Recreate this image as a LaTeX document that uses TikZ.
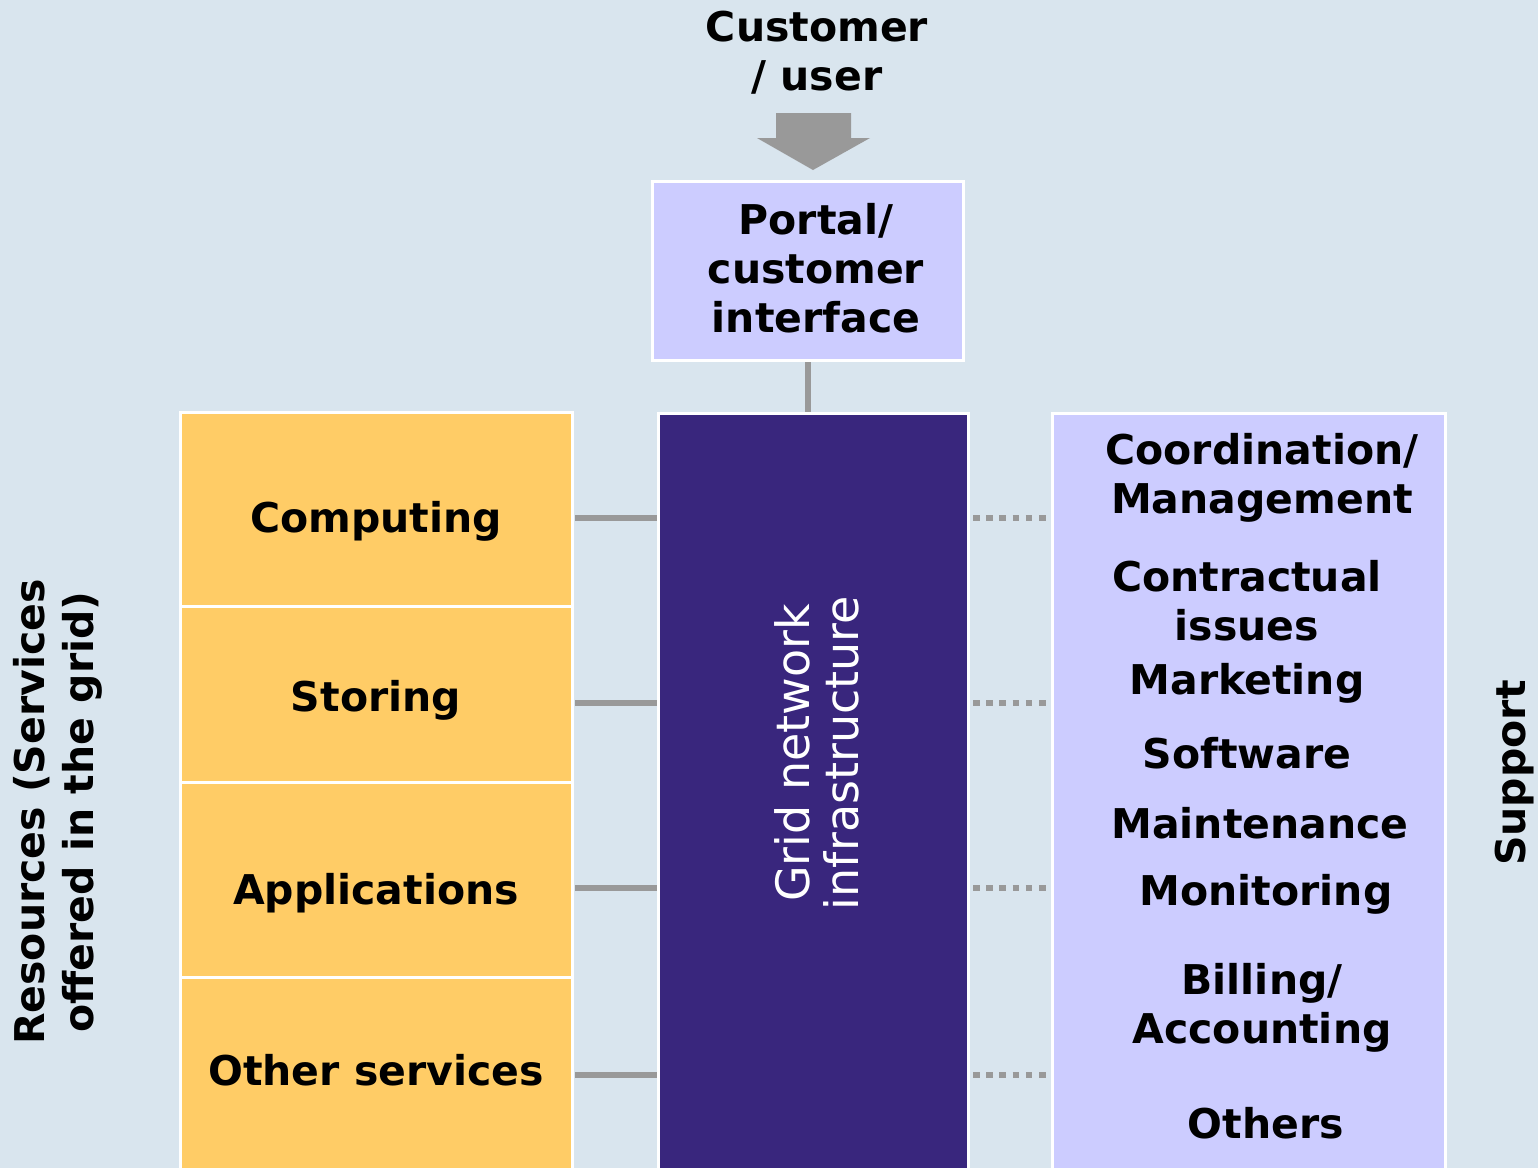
\documentclass[tikz,border=0pt]{standalone}
\usepackage{fontspec}
\setmainfont{DejaVu Sans}
\usetikzlibrary{calc}
\usetikzlibrary{positioning}
\usepackage{xcolor}
\definecolor{bgblue}{RGB}{217,229,238}
\definecolor{resyellow}{RGB}{255,204,102}
\definecolor{suplilac}{RGB}{204,204,255}
\definecolor{gridpurple}{RGB}{57,38,125}
\definecolor{linkgray}{RGB}{153,153,153}
\newcommand{\lblfont}{\bfseries\fontsize{20.5}{24.5}\selectfont}

\begin{document}
\begin{tikzpicture}[x=0.5pt,y=-0.5pt,
  box/.style={draw=white, line width=1.5pt, inner sep=0pt, anchor=north west},
  lbl/.style={font=\lblfont, align=center, inner sep=0pt},
  link/.style={draw=linkgray, line width=3pt},
  dotlink/.style={draw=linkgray, line width=3pt, dash pattern=on 3.3pt off 3.3pt}]
\useasboundingbox (0,0) rectangle (1538,1168);
\clip (0,0) rectangle (1538,1168);
\fill[bgblue] (0,0) rectangle (1538,1168);

% customer and portal
\node[lbl] (user) at (817,53) {Customer\\/ user};
\coordinate (tip) at (813,170);
\fill[linkgray] (tip) -- ++(-56,-32) -- ++(19,0) -- ++(0,-25) -- ++(75,0)
  -- ++(0,25) -- ++(19,0) -- cycle;
\node[box, fill=suplilac, minimum width=155.5pt, minimum height=89.5pt,
  anchor=north] (portal) at (808,180) {};
\node[lbl] (portaltext) at ($(portal.center)+(8,-3)$) {Portal/\\customer\\interface};

% the three columns
\node[box, fill=gridpurple, minimum width=155pt, minimum height=420pt] (grid) at (657,412) {};
\node[box, fill=suplilac, minimum width=196.5pt, minimum height=420pt] (sup) at (1051,412) {};
\coordinate (resR) at (575,0);
\foreach \name/\top/\bot/\ty/\txt in {comp/412/606/521/Computing,
    stor/606/782/700/Storing, appl/782/977/893/Applications,
    other/977/1260/1070/Other services} {
  \draw[box, fill=resyellow] (180,\top) rectangle (572,\bot);
  \node[lbl] (\name) at (376,\ty) {\txt};
}

\node[rotate=90, align=center, text=white, inner sep=0pt,
  font=\fontsize{23}{24.5}\selectfont] (gridtext) at (817,753) {Grid network\\infrastructure};

% connectors
\draw[link] (portal.south) -- (portal.south |- grid.north);
\foreach \name/\ly in {comp/518, stor/703, appl/888, other/1075} {
  \draw[link] (resR |- 0,\ly) -- (grid.west |- 0,\ly);
  \draw[dotlink] ($(grid.east |- 0,\ly)+(3,0)$) -- (sup.west |- 0,\ly);
}

% support items
\node[lbl] (coord) at (1262,478) {Coordination/\\Management};
\node[lbl] (contr) at (1247,601) {Contractual\\issues};
\node[lbl] (mark) at (1247,683) {Marketing};
\node[lbl] (soft) at (1247,753) {Software};
\node[lbl] (maint) at (1260,823) {Maintenance};
\node[lbl] (monit) at (1266,894) {Monitoring};
\node[lbl] (bill) at (1262,1008) {Billing/\\Accounting};
\node[lbl] (others) at (1266,1123) {Others};

% side titles
\node[lbl, rotate=90] (restitle) at (58,812) {Resources (Services\\offered in the grid)};
\node[lbl, rotate=90] (suptitle) at (1515,773) {Support};
\end{tikzpicture}
\end{document}
